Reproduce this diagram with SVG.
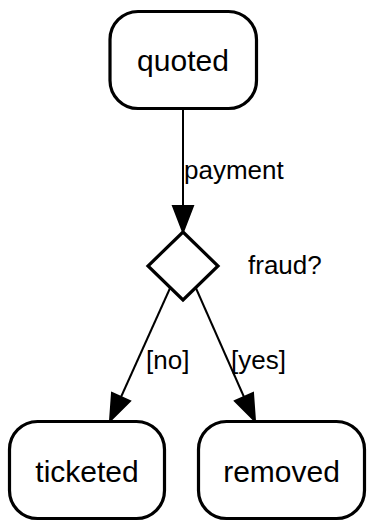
<svg xmlns="http://www.w3.org/2000/svg" width="373" height="531" viewBox="0 0 373 531">
  <style>
    .state { fill: #ffffff; stroke: #000000; stroke-width: 3.2; }
    .node-label { font-family: "Liberation Sans", Arial, sans-serif; font-size: 30px; fill: #000000; text-anchor: middle; }
    .edge { fill: none; stroke: #000000; stroke-width: 2; }
    .edge-label { font-family: "Liberation Sans", Arial, sans-serif; font-size: 26px; fill: #000000; }
    .head { fill: #000000; stroke: #000000; stroke-width: 2; stroke-linejoin: miter; }
  </style>
  <rect width="373" height="531" fill="#ffffff"/>

  <g id="connectors">
    <!-- quoted to decision -->
    <line class="edge" x1="183" y1="109" x2="183" y2="206"/>
    <polygon class="head" points="173,206 193,206 183,232"/>
    <text class="edge-label" x="184" y="179">payment</text>
    <!-- decision to ticketed -->
    <line class="edge" x1="171" y1="286" x2="121" y2="397"/>
    <polygon class="head" points="112,393 130,401 110,421"/>
    <text class="edge-label" x="146" y="369">[no]</text>
    <!-- decision to removed -->
    <line class="edge" x1="195" y1="286" x2="244" y2="397"/>
    <polygon class="head" points="235,401 253,393 255,421"/>
    <text class="edge-label" x="231" y="369">[yes]</text>
  </g>

  <g id="quoted">
    <rect class="state" x="110" y="11.5" width="146.5" height="97" rx="28" ry="28"/>
    <text class="node-label" x="183" y="71">quoted</text>
  </g>

  <g id="fraud-check">
    <polygon class="state" points="183,232 218,266 183,300 148,266"/>
    <text class="edge-label" x="248" y="274">fraud?</text>
  </g>

  <g id="ticketed">
    <rect class="state" x="9.5" y="421.5" width="155" height="97" rx="28" ry="28"/>
    <text class="node-label" x="87" y="482">ticketed</text>
  </g>

  <g id="removed">
    <rect class="state" x="198.5" y="421.5" width="166" height="97" rx="28" ry="28"/>
    <text class="node-label" x="281.5" y="482">removed</text>
  </g>
</svg>
